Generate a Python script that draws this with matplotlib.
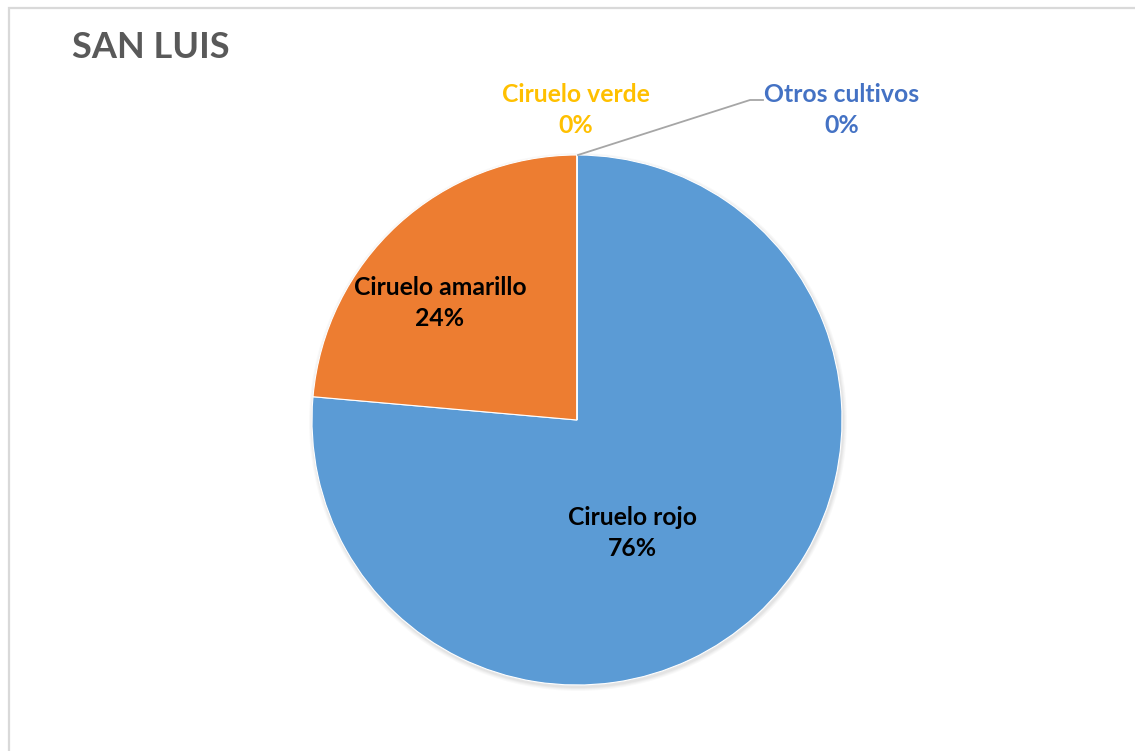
import matplotlib
matplotlib.use("Agg")
import matplotlib.pyplot as plt
from matplotlib.patches import Rectangle

# Data
categories = ["Ciruelo rojo", "Ciruelo amarillo", "Ciruelo verde", "Otros cultivos"]
values = [76.4, 23.6, 0.0, 0.0]
pct_labels = ["76%", "24%", "0%", "0%"]
colors = ["#5B9BD5", "#ED7D31", "#FFC000", "#4472C4"]
title = "SAN LUIS"

W, H = 1135, 751
fig = plt.figure(figsize=(W / 100, H / 100), dpi=100)
ax = fig.add_axes([0, 0, 1, 1])
ax.set_xlim(0, W)
ax.set_ylim(0, H)
ax.set_aspect("equal")
ax.axis("off")

cx, cy, r = 577, H - 420, 265

# soft shadow
for i, a in enumerate([0.025, 0.025, 0.03, 0.03]):
    sh = plt.Circle((cx + 1, cy - 2), r + 4 - i, color="black", alpha=a, lw=0, zorder=1)
    ax.add_patch(sh)

wedges, _ = ax.pie(values, colors=colors, startangle=90, counterclock=False,
                   center=(cx, cy), radius=r, frame=True,
                   wedgeprops=dict(linewidth=0.8, edgecolor="white"))
for w in wedges:
    w.set_zorder(2)
ax.set_xlim(0, W)
ax.set_ylim(0, H)
ax.axis("off")

font = "Lato"
fs = 17.8
ls = 1.38
# inside labels
ax.text(632, H - 533, f"{categories[0]}\n{pct_labels[0]}", ha="center", va="center",
        fontsize=fs, fontweight="bold", family=font, color="black", linespacing=ls, zorder=3)
ax.text(440, H - 303, f"{categories[1]}\n{pct_labels[1]}", ha="center", va="center",
        fontsize=fs, fontweight="bold", family=font, color="black", linespacing=ls, zorder=3)
# outside labels
ax.text(576, H - 110, f"{categories[2]}\n{pct_labels[2]}", ha="center", va="center",
        fontsize=fs, fontweight="bold", family=font, color=colors[2], linespacing=ls, zorder=3)
ax.text(842, H - 110, f"{categories[3]}\n{pct_labels[3]}", ha="center", va="center",
        fontsize=fs, fontweight="bold", family=font, color=colors[3], linespacing=ls, zorder=3)

# leader line
ax.plot([578, 750, 763], [H - 155, H - 100, H - 100], color="#A6A6A6", lw=1.3, zorder=3)

# title
ax.text(72, H - 47, title, ha="left", va="center", fontsize=26, fontweight="bold",
        family=font, color="#595959")

# chart border
ax.add_patch(Rectangle((9, -10), W + 20, H - 8 + 10, fill=False, edgecolor="#D9D9D9", lw=1.6))

fig.savefig("out.png", dpi=100)
